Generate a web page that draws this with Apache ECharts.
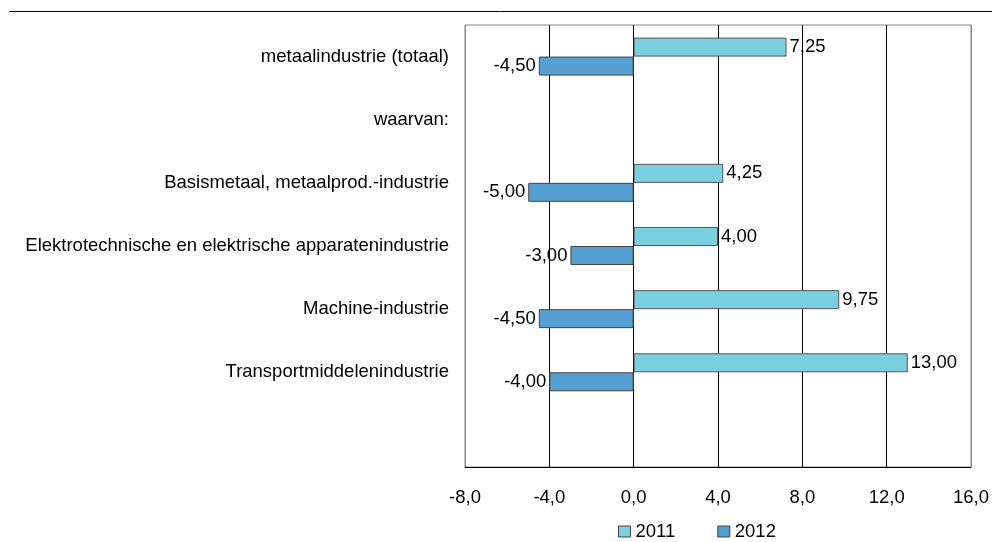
<!DOCTYPE html>
<html><head><meta charset="utf-8">
<script src="https://cdn.jsdelivr.net/npm/echarts@6/dist/echarts.min.js"></script>
<style>html,body{margin:0;padding:0;background:#fff}#c{width:992px;height:542px}</style>
</head><body><div id="c"></div>
<script>
var categories = ['metaalindustrie (totaal)', 'waarvan:', 'Basismetaal, metaalprod.-industrie', 'Elektrotechnische en elektrische apparatenindustrie', 'Machine-industrie', 'Transportmiddelenindustrie', ''];
var values2011 = [7.25, null, 4.25, 4.00, 9.75, 13.00, null];
var values2012 = [-4.50, null, -5.00, -3.00, -4.50, -4.00, null];
var xTicks = [-8, -4, 0, 4, 8, 12, 16];
var seriesNames = ['2011', '2012'];

function fmt(v, d) { return v.toFixed(d).replace('.', ','); }
var font = 'Liberation Sans, Arial, sans-serif';
var fs = 18.5;
var chart = echarts.init(document.getElementById('c'));
chart.setOption({
  animation: false,
  textStyle: { fontFamily: font },
  graphic: [{ type: 'line', shape: { x1: 9, y1: 11.5, x2: 992, y2: 11.5 }, style: { stroke: '#000', lineWidth: 1 } }],
  grid: { left: 465, right: 21, top: 25, bottom: 75, show: true, borderColor: '#888', borderWidth: 1 },
  legend: {
    data: seriesNames, top: 522, left: 613, itemWidth: 12, itemHeight: 11, itemGap: 42, padding: [0, 5],
    textStyle: { fontSize: fs, color: '#000', fontFamily: font }, icon: 'rect',
    itemStyle: { borderColor: '#444', borderWidth: 1 }
  },
  xAxis: {
    type: 'value', min: xTicks[0], max: xTicks[xTicks.length - 1], interval: 4,
    axisLine: { show: true, onZero: false, lineStyle: { color: '#000' } }, axisTick: { show: false },
    axisLabel: { formatter: function (v) { return fmt(v, 1); }, fontSize: fs, color: '#000', margin: 21 },
    splitLine: { show: true, lineStyle: { color: ['#888', '#000', '#000', '#000', '#000', '#000', '#888'], width: 1 } }
  },
  yAxis: {
    type: 'category', data: categories, inverse: true,
    axisLine: { show: true, onZero: false, lineStyle: { color: '#888' } }, axisTick: { show: false },
    axisLabel: { fontSize: fs, color: '#000', margin: 16 }
  },
  series: [
    { name: seriesNames[0], type: 'bar', data: values2011, barWidth: 19, barGap: '0%',
      itemStyle: { color: '#7ACFE0', borderColor: '#555', borderWidth: 1 },
      label: { show: true, position: 'right', distance: 3, fontSize: fs, color: '#000', formatter: function (p) { return fmt(p.value, 2); } } },
    { name: seriesNames[1], type: 'bar', data: values2012, barWidth: 19, barGap: '0%',
      itemStyle: { color: '#559FD3', borderColor: '#444', borderWidth: 1 },
      label: { show: true, position: 'left', distance: 3, fontSize: fs, color: '#000', formatter: function (p) { return fmt(p.value, 2); } } }
  ]
});
</script></body></html>
